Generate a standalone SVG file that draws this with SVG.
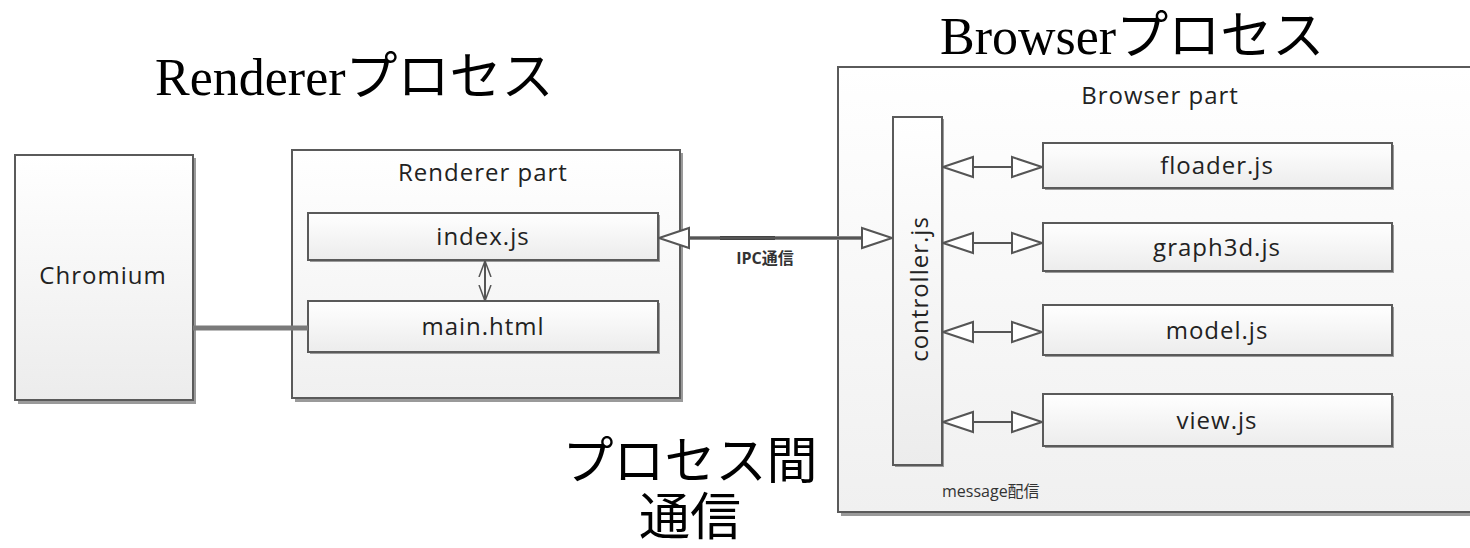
<svg xmlns="http://www.w3.org/2000/svg" width="1470" height="548" viewBox="0 0 1470 548">
<style>
.box{fill:url(#g);stroke:#5a5a5a;stroke-width:2}
.outer{fill:url(#g2);stroke:#5a5a5a;stroke-width:2}
.sh{fill:#9a9a9a}
.lbl{font-family:"Open Sans","Noto Sans","Noto Sans CJK JP",sans-serif;font-size:24px;letter-spacing:1px;fill:#222;text-anchor:middle}
.big{font-family:"Liberation Serif","Noto Sans CJK JP",serif;font-size:52px;fill:#000}
.cjk{font-family:"Noto Sans CJK JP",sans-serif;font-size:51px;fill:#000;text-anchor:middle}
.small{font-family:"Open Sans","Noto Sans CJK JP",sans-serif;font-size:16px;fill:#333}
.con{stroke:#555;stroke-width:2;fill:none}
</style>
<defs>
<linearGradient id="g" x1="0" y1="0" x2="0" y2="1"><stop offset="0" stop-color="#ffffff"/><stop offset="1" stop-color="#ececec"/></linearGradient>
<linearGradient id="g2" x1="0" y1="0" x2="0" y2="1"><stop offset="0" stop-color="#ffffff"/><stop offset="1" stop-color="#f0f0f0"/></linearGradient>
<marker id="tri" viewBox="0 0 32 24" refX="32" refY="12" markerWidth="32" markerHeight="24" markerUnits="userSpaceOnUse" orient="auto-start-reverse"><path d="M1,2 L31,12 L1,22 Z" fill="#fff" stroke="#555" stroke-width="2"/></marker>
<marker id="vee" viewBox="0 0 16 14" refX="16" refY="7" markerWidth="16" markerHeight="14" markerUnits="userSpaceOnUse" orient="auto-start-reverse"><path d="M0,1 L16,7 L0,13" fill="none" stroke="#555" stroke-width="1.5"/></marker>
</defs>
<rect width="1470" height="548" fill="#fff"/>
<text class="big" x="155" y="95">Renderer<tspan font-family="Noto Sans CJK JP,sans-serif">プロセス</tspan></text>
<text class="big" x="940" y="54">Browser<tspan font-family="Noto Sans CJK JP,sans-serif">プロセス</tspan></text>
<text class="cjk" x="690" y="479">プロセス間</text>
<text class="cjk" x="690" y="535">通信</text>
<g id="chromium">
<rect class="sh" x="18" y="158" width="178" height="246"/>
<rect class="box" x="15" y="155" width="178" height="245"/>
<text class="lbl" x="103" y="284">Chromium</text>
</g>
<g id="renderer-part">
<rect class="sh" x="295" y="153" width="388" height="249"/>
<rect class="outer" x="292" y="150" width="388" height="248"/>
<text class="lbl" x="483" y="181">Renderer part</text>
</g>
<g id="index-js">
<rect class="sh" x="310" y="215" width="350" height="47"/>
<rect class="box" x="308" y="213" width="350" height="47"/>
<text class="lbl" x="483" y="245">index.js</text>
</g>
<g id="main-html">
<rect class="sh" x="310" y="303" width="350" height="51"/>
<rect class="box" x="308" y="301" width="350" height="51"/>
<text class="lbl" x="483" y="335">main.html</text>
</g>
<g id="browser-part">
<rect class="sh" x="841" y="70" width="632" height="446"/>
<rect class="outer" x="838" y="67" width="640" height="445"/>
<text class="lbl" x="1160" y="104">Browser part</text>
<text class="small" x="942" y="497">message配信</text>
</g>
<g id="controller-js">
<rect class="sh" x="895" y="119" width="49" height="348"/>
<rect class="box" x="893" y="117" width="49" height="348"/>
<text class="lbl" transform="translate(928,289) rotate(-90)">controller.js</text>
</g>
<g id="floader-js">
<rect class="sh" x="1045" y="145" width="349" height="45"/>
<rect class="box" x="1043" y="143" width="349" height="45"/>
<text class="lbl" x="1217" y="174">floader.js</text>
</g>
<g id="graph3d-js">
<rect class="sh" x="1045" y="225" width="349" height="48"/>
<rect class="box" x="1043" y="223" width="349" height="48"/>
<text class="lbl" x="1217" y="256">graph3d.js</text>
</g>
<g id="model-js">
<rect class="sh" x="1045" y="307" width="349" height="50"/>
<rect class="box" x="1043" y="305" width="349" height="50"/>
<text class="lbl" x="1217" y="339">model.js</text>
</g>
<g id="view-js">
<rect class="sh" x="1045" y="396" width="349" height="52"/>
<rect class="box" x="1043" y="394" width="349" height="52"/>
<text class="lbl" x="1217" y="429">view.js</text>
</g>
<g id="connectors">
<line x1="193" y1="328" x2="308" y2="328" stroke="#7a7a7a" stroke-width="5"/>
<line class="con" x1="485" y1="261" x2="485" y2="301" marker-start="url(#vee)" marker-end="url(#vee)"/>
<line x1="690" y1="238" x2="862" y2="238" stroke="#888" stroke-width="4"/>
<line x1="720" y1="238" x2="775" y2="238" stroke="#444" stroke-width="4"/>
<line class="con" x1="658" y1="238" x2="893" y2="238" stroke-width="1.5" marker-start="url(#tri)" marker-end="url(#tri)"/>
<text class="small" x="765" y="264" text-anchor="middle" font-weight="bold" fill="#444">IPC通信</text>
<line class="con" x1="942" y1="167" x2="1043" y2="167" marker-start="url(#tri)" marker-end="url(#tri)"/>
<line class="con" x1="942" y1="243" x2="1043" y2="243" marker-start="url(#tri)" marker-end="url(#tri)"/>
<line class="con" x1="942" y1="332" x2="1043" y2="332" marker-start="url(#tri)" marker-end="url(#tri)"/>
<line class="con" x1="942" y1="422" x2="1043" y2="422" marker-start="url(#tri)" marker-end="url(#tri)"/>
</g>
</svg>
